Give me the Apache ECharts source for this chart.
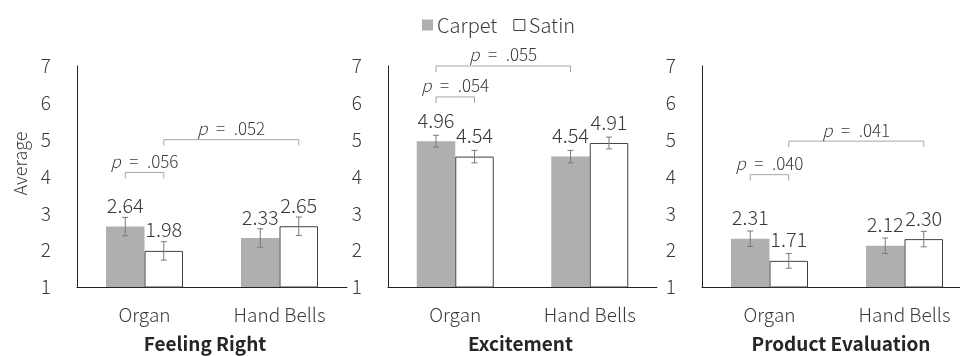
<!DOCTYPE html>
<html>
<head>
<meta charset="utf-8">
<script src="https://cdn.jsdelivr.net/npm/echarts@6/dist/echarts.min.js"></script>
<style>
  html, body { margin: 0; padding: 0; background: #fff; }
  #chart { width: 960px; height: 356px; }
</style>
</head>
<body>
<div id="chart"></div>
<script>
// Categories and panel titles
const categories = ['Organ', 'Hand Bells'];
const panelTitles = ['Feeling Right', 'Excitement', 'Product Evaluation'];

// Means per panel: [Organ, Hand Bells]
const carpetMeans = [[2.64, 2.33], [4.96, 4.54], [2.31, 2.12]];
const satinMeans  = [[1.98, 2.65], [4.54, 4.91], [1.71, 2.30]];

// Standard errors per panel
const carpetErr = [[0.25, 0.25], [0.16, 0.17], [0.21, 0.21]];
const satinErr  = [[0.25, 0.25], [0.17, 0.16], [0.20, 0.21]];

// Y axis range
const yMin = 1, yMax = 7, yStep = 1;

// Significance brackets: panel, start [category, series], end [category, series], height, p value
const bracketPanel = [0, 0, 1, 1, 2, 2];
const bracketStart = [[0, 0], [0, 1], [0, 0], [0, 0], [0, 0], [0, 1]];
const bracketEnd   = [[0, 1], [1, 1], [0, 1], [1, 0], [0, 1], [1, 1]];
const bracketLevel = [4.11, 5.0, 6.16, 7.0, 4.05, 4.96];
const pValues      = ['.056', '.052', '.054', '.055', '.040', '.041'];

const FONT = '"Noto Sans CJK JP", "Noto Sans", sans-serif';
const LIGHT = 300;
const BAR_W = 38.5;
const CARPET = '#afafb2';
const TEXT = '#3a3a3a';

const grids = [
  { left: 77,  top: 66, width: 270, height: 221, outerBoundsMode: 'none', containLabel: false },
  { left: 388, top: 66, width: 269, height: 221, outerBoundsMode: 'none', containLabel: false },
  { left: 702, top: 66, width: 270, height: 221, outerBoundsMode: 'none', containLabel: false }
];
const titleShift = [-7, -2, 4];

const xAxes = grids.map((g, i) => ({
  type: 'category', gridIndex: i, data: categories,
  axisLine: { lineStyle: { color: '#222', width: 1 } },
  axisTick: { show: false },
  axisLabel: { fontFamily: FONT, fontWeight: LIGHT, fontSize: 19, color: TEXT, margin: 18 },
  name: panelTitles[i], nameLocation: 'middle', nameGap: 47,
  nameTextStyle: {
    fontFamily: FONT, fontSize: 19, fontWeight: 'bold', color: '#262626',
    padding: titleShift[i] < 0 ? [0, -2 * titleShift[i], 0, 0] : [0, 0, 0, 2 * titleShift[i]]
  }
}));

const yAxes = grids.map((g, i) => ({
  type: 'value', gridIndex: i, min: yMin, max: yMax, interval: yStep,
  axisLine: { show: true, lineStyle: { color: '#222', width: 1 } },
  axisTick: { show: false },
  splitLine: { show: false },
  axisLabel: { fontFamily: FONT, fontWeight: LIGHT, fontSize: 19, color: TEXT, margin: 26 }
}));

const valueLabel = {
  show: true, position: 'top', distance: 11,
  fontFamily: FONT, fontWeight: LIGHT, fontSize: 20, color: TEXT,
  formatter: p => p.value.toFixed(2)
};

const series = [];
for (let i = 0; i < 3; i++) {
  series.push({
    name: 'Carpet', type: 'bar', xAxisIndex: i, yAxisIndex: i,
    data: carpetMeans[i], barWidth: BAR_W, barGap: '0%',
    itemStyle: { color: CARPET },
    label: valueLabel, z: 2
  });
  series.push({
    name: 'Satin', type: 'bar', xAxisIndex: i, yAxisIndex: i,
    data: satinMeans[i], barWidth: BAR_W, barGap: '0%',
    itemStyle: { color: '#ffffff', borderColor: '#404040', borderWidth: 1 },
    label: valueLabel, z: 2
  });

  // Error bars drawn over each bar
  const errData = [];
  categories.forEach((c, k) => {
    errData.push([k, carpetMeans[i][k], carpetErr[i][k], 0]);
    errData.push([k, satinMeans[i][k], satinErr[i][k], 1]);
  });
  series.push({
    type: 'custom', xAxisIndex: i, yAxisIndex: i, z: 5, silent: true,
    data: errData,
    renderItem: (params, api) => {
      const cat = api.value(0), m = api.value(1), e = api.value(2), side = api.value(3);
      const x = api.coord([cat, m])[0] + (side ? 1 : -1) * BAR_W / 2;
      const yt = api.coord([cat, m + e])[1];
      const yb = api.coord([cat, m - e])[1];
      const st = { stroke: '#7a7a7a', lineWidth: 1 };
      return {
        type: 'group', children: [
          { type: 'line', shape: { x1: x, y1: yt, x2: x, y2: yb }, style: st },
          { type: 'line', shape: { x1: x - 3, y1: yt, x2: x + 3, y2: yt }, style: st },
          { type: 'line', shape: { x1: x - 3, y1: yb, x2: x + 3, y2: yb }, style: st }
        ]
      };
    }
  });

  // Significance brackets for this panel
  const brData = [];
  bracketPanel.forEach((p, b) => {
    if (p === i) {
      brData.push([bracketStart[b][0], bracketStart[b][1], bracketEnd[b][0], bracketEnd[b][1], bracketLevel[b], b]);
    }
  });
  series.push({
    type: 'custom', xAxisIndex: i, yAxisIndex: i, z: 6, silent: true, clip: false,
    data: brData,
    renderItem: (params, api) => {
      const lvl = api.value(4);
      const x1 = api.coord([api.value(0), lvl])[0] + (api.value(1) ? 1 : -1) * BAR_W / 2;
      const x2 = api.coord([api.value(2), lvl])[0] + (api.value(3) ? 1 : -1) * BAR_W / 2;
      const y = api.coord([api.value(0), lvl])[1];
      const pv = pValues[api.value(5)];
      return {
        type: 'group', children: [
          { type: 'polyline', shape: { points: [[x1, y + 6], [x1, y], [x2, y], [x2, y + 6]] },
            style: { stroke: '#a6a6a6', lineWidth: 1, fill: null } },
          { type: 'text', x: (x1 + x2) / 2, y: y - 11,
            style: {
              text: '{i|p}\u2002=\u2002' + pv, align: 'center', verticalAlign: 'middle',
              fontFamily: FONT, fontWeight: LIGHT, fontSize: 17, fill: TEXT,
              rich: { i: { fontStyle: 'italic', fontFamily: FONT, fontWeight: LIGHT, fontSize: 17, fill: TEXT } }
            } }
        ]
      };
    }
  });
}

const chart = echarts.init(document.getElementById('chart'), null, { renderer: 'canvas' });
chart.setOption({
  animation: false,
  backgroundColor: '#ffffff',
  grid: grids,
  xAxis: xAxes,
  yAxis: yAxes,
  legend: {
    data: [
      { name: 'Carpet', icon: 'rect', itemStyle: { color: CARPET, borderWidth: 0 } },
      { name: 'Satin', icon: 'rect', itemStyle: { color: '#ffffff', borderColor: '#404040', borderWidth: 1 } }
    ],
    left: 417, top: 10, itemWidth: 11, itemHeight: 11, itemGap: 16,
    selectedMode: false,
    textStyle: { fontFamily: FONT, fontWeight: LIGHT, fontSize: 20, color: TEXT, padding: [0, 0, 0, -1] }
  },
  graphic: [{
    type: 'text', x: 20, y: 163.5, rotation: Math.PI / 2,
    style: { text: 'Average', fontFamily: FONT, fontWeight: LIGHT, fontSize: 18, fill: TEXT, align: 'center', verticalAlign: 'middle' }
  }],
  series: series
});
</script>
</body>
</html>
